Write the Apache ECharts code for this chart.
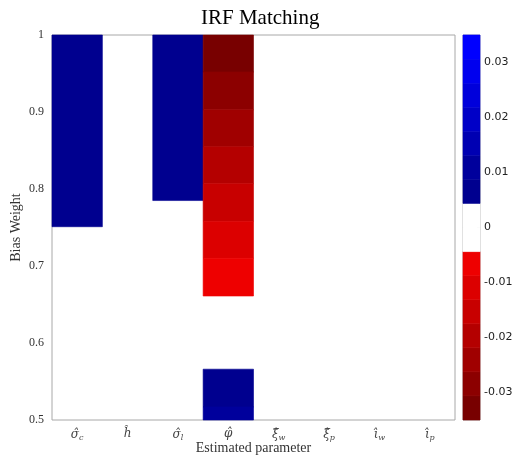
<!DOCTYPE html>
<html><head><meta charset="utf-8">
<script src="https://cdn.jsdelivr.net/npm/echarts@6/dist/echarts.min.js"></script>
<style>html,body{margin:0;padding:0;background:#fff}#c{width:518px;height:458px}</style>
</head><body><div id="c"></div>
<script>
// ---- data ----
var paramSymbols = ['σ̂', 'ĥ', 'σ̂', 'φ̂', 'ξ̂', 'ξ̂', 'ι̂', 'ι̂'];
var paramSubs    = ['c', '', 'l', '', 'w', 'p', 'w', 'p'];
// cells: column index, lower bias weight, upper bias weight, value
var cellCol   = [0,     2,     3,     3,     3,     3,     3,     3,     3,     3,     3];
var cellLow   = [0.751, 0.785, 0.952, 0.903, 0.855, 0.807, 0.758, 0.710, 0.661, 0.517, 0.500];
var cellHigh  = [1.000, 1.000, 1.000, 0.952, 0.903, 0.855, 0.807, 0.758, 0.710, 0.566, 0.517];
var cellValue = [0.0065, 0.0065, -0.0325, -0.028, -0.024, -0.019, -0.015, -0.011, -0.0065, 0.0065, 0.011];
var yTicks = [0.5, 0.6, 0.7, 0.8, 0.9, 1];
var cbTicks = [-0.03, -0.02, -0.01, 0, 0.01, 0.02, 0.03];
var cbMin = -0.035, cbMax = 0.035;
var levelColors = ['#780000','#8c0000','#a00000','#b40000','#c80000','#dc0000','#ee0000',
                   '#ffffff','#ffffff',
                   '#00008f','#00009c','#0000b2','#0000c7','#0000db','#0000ee','#0000ff'];

var nLev = levelColors.length, levStep = (cbMax - cbMin) / nLev;
function colorFor(v){
  var i = Math.floor((v - cbMin) / levStep);
  if (i < 0) i = 0; if (i > nLev - 1) i = nLev - 1;
  return levelColors[i];
}
var cells = cellCol.map(function(c, i){ return [c, cellLow[i], cellHigh[i], cellValue[i]]; });
var levels = levelColors.map(function(col, i){ return [0, cbMin + i*levStep, cbMin + (i+1)*levStep, cbMin + (i+0.5)*levStep]; });

function rectItem(params, api){
  var x = api.value(0), lo = api.value(1), hi = api.value(2);
  var pTop = api.coord([x, hi]), pBot = api.coord([x, lo]);
  var w = api.size([1, 0])[0];
  var c = colorFor(api.value(3));
  return {type:'rect', shape:{x:pTop[0]-w/2, y:pTop[1], width:w, height:pBot[1]-pTop[1]},
          style:{fill: c, stroke: c, lineWidth: 0.6}};
}

var serif = '"Liberation Serif", "DejaVu Serif", serif';
var mathFont = '"DejaVu Serif", serif';
var chart = echarts.init(document.getElementById('c'), null, {renderer:'canvas'});
chart.setOption({
  animation:false,
  title:{text:'IRF Matching', left:196, top:3, textStyle:{fontFamily:serif, fontWeight:'normal', fontSize:21, color:'#000'}},
  grid:[
    {left:52, top:35, width:403, height:385, show:true, borderColor:'#a8a8a8', borderWidth:1, backgroundColor:'#fff', outerBoundsMode:'none', containLabel:false},
    {left:463, top:35, width:17, height:385, show:true, borderColor:'#a8a8a8', borderWidth:1, outerBoundsMode:'none', containLabel:false}
  ],
  xAxis:[
    {type:'category', gridIndex:0, data:paramSymbols.map(function(s,i){return i;}),
     axisLine:{show:false}, axisTick:{show:false}, splitLine:{show:false},
     name:'Estimated parameter', nameLocation:'middle', nameGap:21, nameMoveOverlap:false,
     nameTextStyle:{fontFamily:serif, fontSize:14, color:'#333'},
     axisLabel:{margin:8, interval:0, formatter:function(v, i){
        var idx = +v; var s = '{m|' + paramSymbols[idx] + '}';
        if (paramSubs[idx]) s += '{s|' + paramSubs[idx] + '}';
        return s;
      }, rich:{m:{fontFamily:mathFont, fontStyle:'italic', fontSize:12, color:'#444'},
               s:{fontFamily:mathFont, fontStyle:'italic', fontSize:8, color:'#444', padding:[6,0,0,0]}}}},
    {type:'category', gridIndex:1, data:['cb'], show:false}
  ],
  yAxis:[
    {type:'value', gridIndex:0, min:0.5, max:1, interval:0.1,
     axisLine:{show:false}, axisTick:{show:false}, splitLine:{show:false},
     axisLabel:{fontFamily:serif, fontSize:12, color:'#333', margin:8,
       formatter:function(v){ return v===1 ? '1' : v.toFixed(1); }},
     name:'Bias Weight', nameLocation:'middle', nameGap:29, nameRotate:90, nameMoveOverlap:false,
     nameTextStyle:{fontFamily:serif, fontSize:14, color:'#333'}},
    {type:'value', gridIndex:1, min:cbMin, max:cbMax, position:'right',
     axisLine:{show:false}, splitLine:{show:false},
     axisTick:{show:true, inside:true, length:3, customValues:cbTicks, lineStyle:{color:'#999'}},
     axisLabel:{customValues:cbTicks, fontFamily:'"DejaVu Sans", sans-serif', fontSize:11, color:'#222', margin:4,
       formatter:function(v){ var r = Math.round(v*100)/100; return r===0 ? '0' : r.toFixed(2); }}}
  ],
  series:[
    {type:'custom', xAxisIndex:0, yAxisIndex:0, renderItem:rectItem, data:cells, z:1},
    {type:'custom', xAxisIndex:1, yAxisIndex:1, renderItem:rectItem, data:levels, z:1}
  ]
});
</script></body></html>
